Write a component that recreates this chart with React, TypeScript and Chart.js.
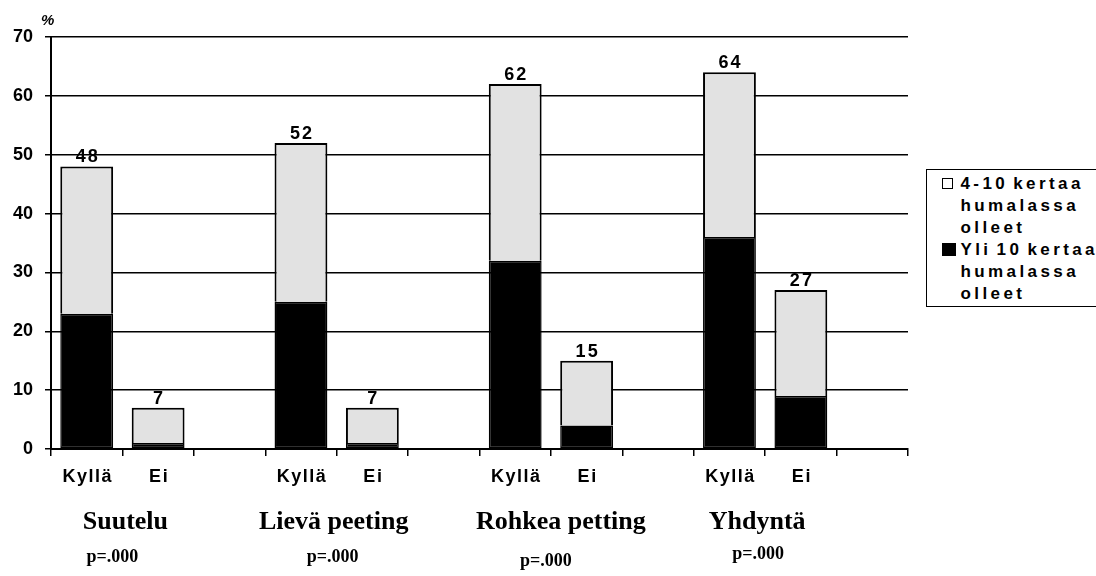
import React, { useEffect, useRef } from "react";
import { Chart, registerables } from "chart.js";

Chart.register(...registerables);

const categories = ["Kyllä", "Ei", "", "Kyllä", "Ei", "", "Kyllä", "Ei", "", "Kyllä", "Ei", ""];
const over10Times = [23, 1, null, 25, 1, null, 32, 4, null, 36, 9, null];
const from4to10Times = [25, 6, null, 27, 6, null, 30, 11, null, 28, 18, null];
const totals = [48, 7, null, 52, 7, null, 62, 15, null, 64, 27, null];
const groups = ["Suutelu", "Lievä peeting", "Rohkea petting", "Yhdyntä"];
const pValues = ["p=.000", "p=.000", "p=.000", "p=.000"];
const legendLabels = [
  ["4-10 kertaa", "humalassa", "olleet"],
  ["Yli 10 kertaa", "humalassa", "olleet"],
];

// small label nudges (style only)
const groupNudgeX = [3, -3, 10, -8];
const pNudgeX = [-10, -4, -5, -7];
const pNudgeY = [0, 0, 4, -3];

const SANS = '"Liberation Sans", Arial, sans-serif';
const SERIF = '"Liberation Serif", "Times New Roman", serif';

const textPlugin = {
  id: "texts",
  afterDraw(chart: any) {
    const { ctx } = chart;
    const x = chart.scales.x;
    const y = chart.scales.y;
    ctx.save();
    ctx.fillStyle = "#000";
    ctx.textAlign = "center";
    ctx.textBaseline = "alphabetic";
    // totals above bars
    ctx.font = `bold 18px ${SANS}`;
    (ctx as any).letterSpacing = "2px";
    totals.forEach((t, i) => {
      if (t == null) return;
      ctx.fillText(String(t), x.getPixelForValue(i) + 1, y.getPixelForValue(t) - 4);
    });
    // category labels
    ctx.font = `bold 18px ${SANS}`;
    (ctx as any).letterSpacing = "1.5px";
    categories.forEach((c, i) => {
      if (!c) return;
      ctx.fillText(c, x.getPixelForValue(i) + 1, y.bottom + 33);
    });
    (ctx as any).letterSpacing = "0px";
    // group labels
    ctx.font = `bold 26px ${SERIF}`;
    groups.forEach((g, gi) => {
      const cx = (x.getPixelForValue(gi * 3) + x.getPixelForValue(gi * 3 + 1)) / 2 + groupNudgeX[gi];
      ctx.fillText(g, cx, y.bottom + 80);
    });
    ctx.font = `bold 18px ${SERIF}`;
    pValues.forEach((p, gi) => {
      const cx = (x.getPixelForValue(gi * 3) + x.getPixelForValue(gi * 3 + 1)) / 2 + pNudgeX[gi];
      ctx.fillText(p, cx, y.bottom + 113 + pNudgeY[gi]);
    });
    // percent sign
    ctx.font = `italic bold 15px ${SANS}`;
    ctx.textAlign = "left";
    ctx.fillText("%", x.left - 10, 25);
    ctx.restore();
  },
};

export default function App() {
  const ref = useRef<HTMLCanvasElement | null>(null);

  useEffect(() => {
    if (!ref.current) return;
    const chart = new Chart(ref.current, {
      type: "bar",
      data: {
        labels: categories,
        datasets: [
          {
            label: legendLabels[1].join(" "),
            data: over10Times,
            backgroundColor: "#000",
            borderColor: "#000",
            borderWidth: 1.5,
            borderSkipped: false,
            stack: "s",
          },
          {
            label: legendLabels[0].join(" "),
            data: from4to10Times,
            backgroundColor: "#e2e2e2",
            borderColor: "#000",
            borderWidth: 2,
            borderSkipped: "start",
            stack: "s",
          },
        ],
      },
      options: {
        responsive: false,
        animation: false,
        layout: { padding: { left: 0, top: 37, right: 188, bottom: 0 } },
        plugins: {
          legend: { display: false },
          tooltip: { enabled: false },
        },
        datasets: { bar: { barPercentage: 0.74, categoryPercentage: 1 } },
        scales: {
          x: {
            stacked: true,
            offset: true,
            grid: {
              offset: true,
              drawOnChartArea: false,
              drawTicks: true,
              tickLength: 7,
              color: "#000",
              lineWidth: 1.5,
            },
            border: { color: "#000", width: 2 },
            ticks: { display: false },
            afterFit: (s: any) => {
              s.height = 127;
            },
          },
          y: {
            stacked: true,
            min: 0,
            max: 70,
            ticks: {
              stepSize: 10,
              color: "#000",
              font: { family: SANS, size: 18, weight: "bold" },
              padding: 12,
            },
            grid: { color: "#000", lineWidth: 1.5, tickLength: 6 },
            border: { color: "#000", width: 2 },
            afterFit: (s: any) => {
              s.width = 51;
            },
          },
        },
      },
      plugins: [textPlugin],
    });
    return () => chart.destroy();
  }, []);

  const lineStyle: React.CSSProperties = {
    position: "relative",
    height: 22,
    lineHeight: "22px",
    whiteSpace: "nowrap",
  };

  return (
    <div style={{ position: "fixed", left: 0, top: 0, width: 1096, height: 576, background: "#fff", overflow: "hidden" }}>
      <canvas ref={ref} width={1096} height={576} style={{ position: "absolute", left: 0, top: 0 }} />
      <div
        style={{
          position: "absolute",
          left: 926,
          top: 169,
          width: 200,
          border: "1.5px solid #000",
          padding: "3px 0 1px 33.5px",
          fontFamily: SANS,
          fontWeight: "bold",
          fontSize: 17,
          letterSpacing: "3.4px",
          wordSpacing: "-3px",
          color: "#000",
          background: "#fff",
        }}
      >
        {legendLabels.map((lines, li) => (
          <div key={li}>
            {lines.map((t, k) => (
              <div key={k} style={lineStyle}>
                {k === 0 && (
                  <span
                    style={{
                      position: "absolute",
                      left: -19,
                      top: li === 0 ? 5 : 4,
                      width: li === 0 ? 9 : 14,
                      height: li === 0 ? 9 : 13,
                      border: li === 0 ? "1.5px solid #000" : "none",
                      background: li === 0 ? "#fff" : "#000",
                    }}
                  />
                )}
                {t}
              </div>
            ))}
          </div>
        ))}
      </div>
    </div>
  );
}
